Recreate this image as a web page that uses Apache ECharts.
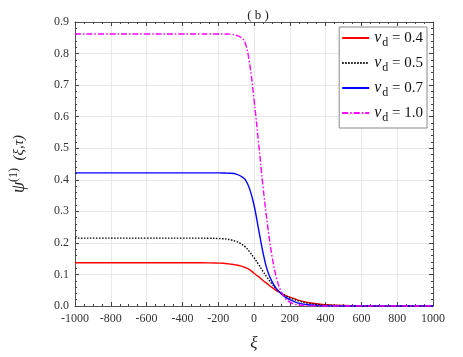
<!DOCTYPE html>
<html>
<head>
<meta charset="utf-8">
<script src="https://cdn.jsdelivr.net/npm/echarts@6/dist/echarts.min.js"></script>
<style>html,body{margin:0;padding:0;background:#fff}</style>
</head>
<body>
<div id="main" style="width:463px;height:357px"></div>
<script>
// sample positions (xi) shared by all curves
var xi = [-1000, -800, -600, -400, -300, -250, -200, -175, -150, -125, -100, -75, -50, -25, 0, 25, 50, 75, 100, 125, 150, 175, 200, 225, 250, 300, 350, 400, 500, 600, 800, 1000];
var nu04 = [0.137, 0.137, 0.137, 0.137, 0.137, 0.1368, 0.136, 0.1355, 0.134, 0.1325, 0.13, 0.127, 0.122, 0.115, 0.104, 0.093, 0.081, 0.07, 0.059, 0.049, 0.041, 0.034, 0.028, 0.023, 0.018, 0.011, 0.007, 0.004, 0.0015, 0.0005, 0, 0];
var nu05 = [0.215, 0.215, 0.215, 0.215, 0.215, 0.2148, 0.214, 0.2132, 0.212, 0.209, 0.205, 0.198, 0.188, 0.172, 0.153, 0.132, 0.11, 0.089, 0.07, 0.054, 0.042, 0.033, 0.026, 0.021, 0.016, 0.009, 0.005, 0.003, 0.001, 0, 0, 0];
var nu07 = [0.422, 0.422, 0.422, 0.422, 0.422, 0.422, 0.4218, 0.4216, 0.421, 0.4205, 0.418, 0.412, 0.401, 0.372, 0.32, 0.245, 0.17, 0.112, 0.078, 0.055, 0.04, 0.028, 0.02, 0.014, 0.009, 0.004, 0.002, 0.001, 0, 0, 0, 0];
var nu10 = [0.862, 0.862, 0.862, 0.862, 0.862, 0.862, 0.862, 0.862, 0.8618, 0.861, 0.858, 0.852, 0.835, 0.77, 0.655, 0.52, 0.38, 0.26, 0.16, 0.09, 0.048, 0.024, 0.012, 0.006, 0.003, 0.001, 0, 0, 0, 0, 0, 0];
var legendNames = ['0.4', '0.5', '0.7', '1.0'];
var colors = ['#ff0000', '#000000', '#0000ff', '#ff00ff'];
var lineTypes = ['solid', [1.5, 1.5], 'solid', [6, 2, 1.5, 2]];
var allData = [nu04, nu05, nu07, nu10];

var serif = 'Liberation Serif, Times New Roman, serif';

function pairs(ys) {
  var out = [];
  for (var i = 0; i < xi.length; i++) out.push([xi[i], ys[i]]);
  return out;
}

var series = [];
for (var k = 0; k < allData.length; k++) {
  series.push({
    name: legendNames[k],
    type: 'line',
    data: pairs(allData[k]),
    symbol: 'none',
    smooth: 0.4,
    lineStyle: {color: colors[k], width: 1.4, type: lineTypes[k]},
    itemStyle: {color: colors[k]}
  });
}

var option = {
  animation: false,
  title: {
    text: '( b )', left: 253, top: 4, textAlign: 'center',
    textStyle: {fontFamily: serif, fontSize: 13, fontWeight: 'normal', color: '#222'}
  },
  legend: {
    right: 36, top: 27, orient: 'vertical',
    backgroundColor: '#fff', borderColor: '#888', borderWidth: 1,
    padding: [3, 4, 4, 2], itemGap: 6, itemWidth: 27, itemHeight: 12,
    itemStyle: {opacity: 0},
    data: legendNames,
    formatter: function (n) { return '{v|ν}{s|d}{t| = ' + n + '}'; },
    textStyle: {
      fontFamily: serif, fontSize: 15, color: '#111',
      rich: {
        v: {fontFamily: serif, fontStyle: 'italic', fontSize: 16, color: '#111'},
        s: {fontFamily: serif, fontSize: 12, color: '#111', verticalAlign: 'bottom', padding: [10, 0, 0, 1]},
        t: {fontFamily: serif, fontSize: 15, color: '#111'}
      }
    }
  },
  grid: {left: 74, right: 30, top: 22, bottom: 45},
  xAxis: [{
    type: 'value', min: -1000, max: 1000, interval: 200,
    axisLine: {onZero: false, lineStyle: {color: '#555'}},
    axisTick: {inside: true, length: 4, lineStyle: {color: '#444'}},
    minorTick: {show: true, splitNumber: 4, length: 2, lineStyle: {color: '#444'}},
    splitLine: {show: true, lineStyle: {color: '#e8e8e8'}},
    axisLabel: {fontFamily: serif, fontSize: 12, color: '#333', margin: 7,
      formatter: function (v) { return String(v); }},
    name: 'ξ', nameLocation: 'middle', nameGap: 29,
    nameTextStyle: {fontFamily: serif, fontStyle: 'italic', fontSize: 17, color: '#222'}
  }, {
    type: 'value', min: -1000, max: 1000, interval: 200, position: 'top',
    axisLine: {onZero: false, lineStyle: {color: '#555'}},
    axisTick: {inside: true, length: 4, lineStyle: {color: '#444'}},
    minorTick: {show: true, splitNumber: 4, length: 2, lineStyle: {color: '#444'}},
    splitLine: {show: false}, axisLabel: {show: false}
  }],
  yAxis: [{
    type: 'value', min: 0, max: 0.9, interval: 0.1,
    axisLine: {show: true, onZero: false, lineStyle: {color: '#555'}},
    axisTick: {show: true, inside: true, length: 4, lineStyle: {color: '#444'}},
    minorTick: {show: true, splitNumber: 5, length: 2, lineStyle: {color: '#444'}},
    splitLine: {show: true, lineStyle: {color: '#e8e8e8'}},
    axisLabel: {fontFamily: serif, fontSize: 12, color: '#333', margin: 6,
      formatter: function (v) { return v.toFixed(1); }},
    name: '{p|ψ}{s|(1)}{t|  (ξ,τ)}', nameLocation: 'middle', nameGap: 45,
    nameTextStyle: {
      fontFamily: serif, fontSize: 15, color: '#222',
      rich: {
        p: {fontFamily: serif, fontStyle: 'italic', fontSize: 18, color: '#222'},
        s: {fontFamily: serif, fontSize: 12, color: '#222', verticalAlign: 'top', padding: [0, 0, 10, 0]},
        t: {fontFamily: serif, fontStyle: 'italic', fontSize: 15, color: '#222'}
      }
    }
  }, {
    type: 'value', min: 0, max: 0.9, interval: 0.1, position: 'right',
    axisLine: {show: true, onZero: false, lineStyle: {color: '#555'}},
    axisTick: {show: true, inside: true, length: 4, lineStyle: {color: '#444'}},
    minorTick: {show: true, splitNumber: 5, length: 2, lineStyle: {color: '#444'}},
    splitLine: {show: false}, axisLabel: {show: false}
  }],
  series: series
};

var chart = echarts.init(document.getElementById('main'));
chart.setOption(option);
</script>
</body>
</html>
